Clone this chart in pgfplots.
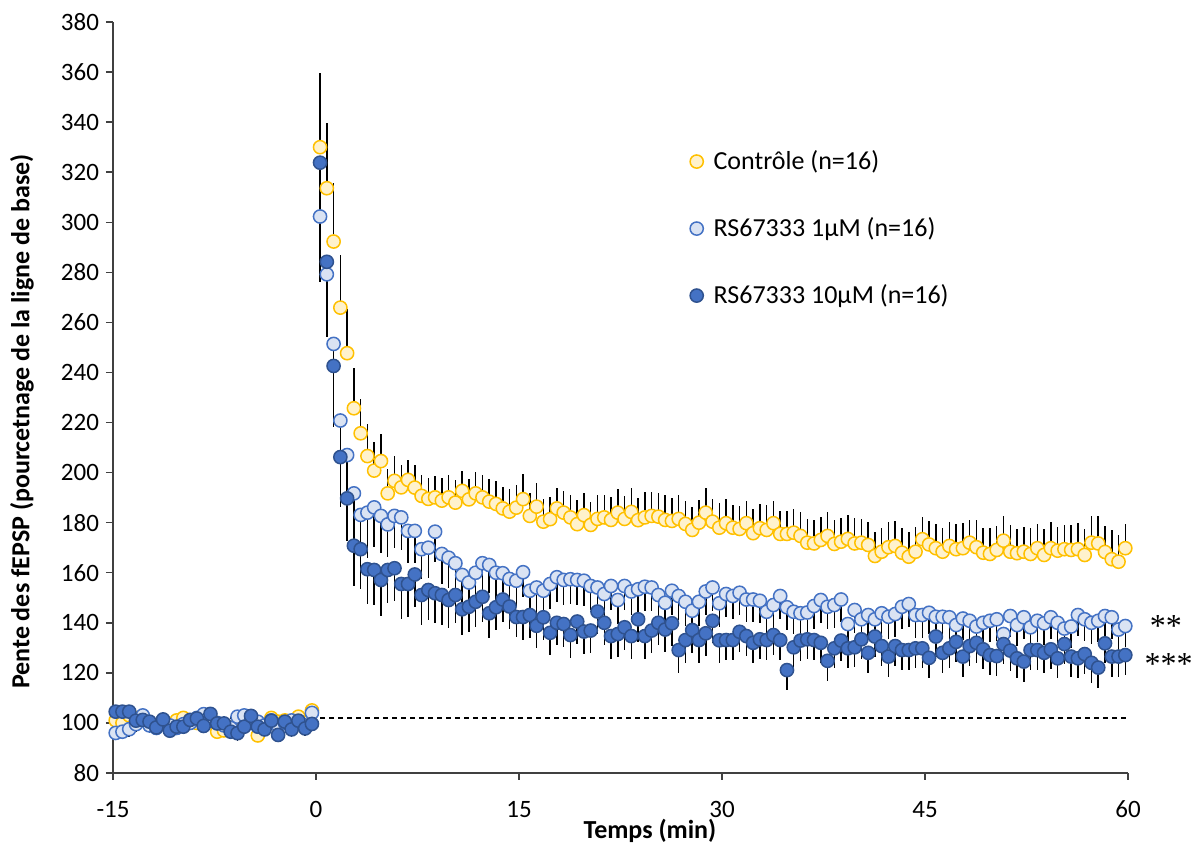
\documentclass[border=0pt]{standalone}
\usepackage{pgfplots}
\pgfplotsset{compat=1.18}
\usepackage{pgfplotstable}
\usepackage{fontspec}
\setmainfont{Carlito}
\newfontfamily\seriffont{Liberation Serif}
\definecolor{ctrlfill}{HTML}{FFF2CC}
\definecolor{ctrledge}{HTML}{FFC000}
\definecolor{lfill}{HTML}{DAE3F3}
\definecolor{ledge}{HTML}{4472C4}
\definecolor{dfill}{HTML}{4472C4}
\definecolor{dedge}{HTML}{2F528F}
\definecolor{axisgray}{HTML}{404040}

\pgfplotstableread{
t c ce l le d de
-14.8 101 2 96 3 104.5 3
-14.3 100 2 96.5 3 104.5 3
-13.8 103 2 97.5 3 104.5 3
-13.3 102 2 99.5 3 100.9 3
-12.8 101.5 2 103 3 101.2 3
-12.3 100 2 99 3 100.5 3
-11.8 99 2 98 3 98.2 3
-11.3 100.5 2 100 3 101.4 3
-10.8 98 2 99 3 96.9 3
-10.3 101 2 98 3 98.5 3
-9.8 102 2 99.5 3 98.5 3
-9.3 101 2 100 3 101.2 3
-8.8 100 2 102 3 101.8 3
-8.3 99.5 2 103.5 3 98.8 3
-7.8 102 2 101 3 103.6 3
-7.3 96.5 2 100 3 99.8 3
-6.8 97 2 99 3 99.8 3
-6.3 98 2 98 3 96.5 3
-5.8 100 2 102.5 3 95.9 3
-5.3 99 2 103 3 98.5 3
-4.8 101 2 101 3 102.8 3
-4.3 95 2 100.5 3 98.5 3
-3.8 99 2 99 3 97.4 3
-3.3 102 2 101 3 100.9 3
-2.8 100.5 2 99 3 95.2 3
-2.3 101 2 100 3 100.5 3
-1.8 99 2 101 3 97.4 3
-1.3 102.5 2 100.5 3 100.9 3
-0.8 100 2 99 3 97.8 3
-0.3 105 2 104 3 99.6 3
0.3 330 29.5 302.3 26 323.8 30
0.8 313.6 26 279.2 25 284.2 30
1.3 292.3 23.5 251.4 33 242.6 24
1.8 265.9 21 220.8 34 206.2 20
2.3 247.7 17.6 207 30 189.7 17
2.8 225.7 16 191.7 26 170.8 16
3.3 215.7 13.6 183.1 20 169.4 16
3.8 206.6 13 184 18 161.4 14
4.3 200.8 11.6 186.1 16 161.1 14
4.8 204.6 10.8 182.7 15 157.1 14.5
5.3 191.7 9.6 179.3 13 161.1 13
5.8 196.7 10 182.7 13 161.8 13
6.3 194.1 9 182.1 13 155.5 14
6.8 197.1 8 176.7 13 155.5 13
7.3 194 9 176.7 13 159.3 13
7.8 190.7 8.5 169.4 12 151.1 12
8.3 189.5 8.5 170 12 153.1 12
8.8 190.1 8.5 176.4 12 151.8 12
9.3 188.8 9 167.5 12 151.1 12
9.8 190.1 9 166 12 149.1 11
10.3 188 9 163.8 11 151.1 11
10.8 192.7 8 159.1 11 145.4 10.3
11.3 189.3 8 156.1 11 146.4 10
11.8 191.7 8.5 160 11 148.4 10
12.3 190.1 9 163.8 11 150.4 10
12.8 188.4 9 163.1 11 143.8 10
13.3 187.5 9 160 11 146.2 9
13.8 185.7 8.5 159.8 10 149.3 9
14.3 184.4 9 157.5 10 146.5 9
14.8 186 9 156.8 10 142.3 8
15.3 189.4 10 160.2 10 142.3 9
15.8 182.7 9 152.8 10 143.1 9
16.3 186.4 9.5 154.1 10 138.8 9
16.8 180.4 9 152.8 10 142.2 9
17.3 181.4 9 155.5 10 136 9
17.8 185.7 8 158.2 10 140 9
18.3 184 8.5 157.1 10 139.5 9
18.8 182.1 9 157.4 10 135.1 9
19.3 179.4 9.5 157.1 10 140.5 9
19.8 183 9 156.8 10 136.5 9
20.3 179.1 9 154.7 9.5 136.9 9
20.8 181.5 9.5 154.1 9.5 144.5 9
21.3 182.1 9 151.5 9.5 140 9
21.8 181.1 9 154.7 9.5 134.7 9
22.3 184 9.5 149.1 9.5 135.5 9
22.8 181.5 9 154.7 9.5 138.2 9
23.3 184.3 9.5 152.5 9.5 134.7 9
23.8 181 9 153.4 9.5 141.4 9
24.3 182.1 10 154.4 9.5 134.7 9
24.8 182.7 9.5 154.1 9.5 136.9 9
25.3 182.4 9.5 151.1 9.5 140 9
25.8 181.1 10 148 9.5 137.3 9
26.3 180.7 9 152.8 9.5 139.8 9
26.8 181.5 9.5 150.7 9.5 129.1 9
27.3 179.5 9 148.4 9.5 133.1 9
27.8 177.1 9 144.8 9.5 137.1 9
28.3 180 9 148.4 9.5 133.1 9
28.8 184 10 152.5 9.5 135.8 9
29.3 180.4 9 154.1 9.5 140.8 9
29.8 178 10 147.8 9.5 133 9
30.3 179.8 9.5 151.5 9 133.1 8
30.8 178 9 150.7 9 133.1 8
31.3 177.5 9 152 9 136.4 8
31.8 179.8 9 149.3 9 134.7 8
32.3 175.8 9.5 149.3 9 132 8
32.8 177.8 9.5 148.8 9 133.4 8
33.3 177.1 10 144.4 9 133.1 8
33.8 179.8 9 147.1 9 135.1 8
34.3 175.5 9 150.7 9 133.1 8
34.8 175.5 9 146.2 9 121.1 8
35.3 176 9.5 144.4 9 130.2 8
35.8 174.7 9.5 143.8 9 132.9 8
36.3 172 9.5 144.1 9 133.4 8
36.8 171.7 9.5 146.7 9 133.1 8
37.3 173.1 9 149.1 9 132 8
37.8 174.7 9.5 146.4 9 124.8 8
38.3 171.5 9.5 147.1 9 129.8 8
38.8 172.4 9.5 149.3 9 132.9 8
39.3 173.5 9.5 139.5 9 129.8 8
39.8 171.7 10 145.1 9 130.2 8
40.3 172 9.5 141.4 9 133.4 8
40.8 171.1 9 143.1 9 128 8
41.3 166.7 9.5 141.4 9 134.5 8
41.8 168.4 9.5 143.8 9 130.7 8
42.3 170.2 10 142.4 9 126.5 8
42.8 170.7 10 143.5 9 130.7 8
43.3 168 10 146.4 9 129.1 8
43.8 166.4 10 147.5 9 129.1 8
44.3 168.4 10 143.1 9 129.8 8
44.8 173.4 9 143.1 9 129.8 8
45.3 171.3 9.5 144 8.5 126 8
45.8 169.8 9.5 142.4 8.5 134.5 8
46.3 168.4 9.5 142.4 8.5 128 8
46.8 170.7 9.5 142.2 8.5 129.8 8
47.3 169.4 10 139.1 8.5 132.4 8
47.8 169.8 10 141.7 8.5 126.5 8
48.3 172 9 140.8 8.5 130.7 8
48.8 170.2 11 138.5 8.5 132 8
49.3 168 10 140 8.5 129.4 8
49.8 167.5 10.5 140.8 8.5 127.1 8
50.3 169.1 9.5 141.4 8.5 126.7 8
50.8 172.8 10 135.5 8.5 131.5 8
51.3 168.4 10.5 142.7 8.5 128.9 8
51.8 167.8 9.5 139.1 8.5 125.8 8
52.3 168.4 10 142.2 8.5 124.5 8
52.8 167.5 10.5 138.2 8.5 129.1 8
53.3 169.8 9.5 140.8 8.5 129.1 8
53.8 167.1 10.5 139.8 8.5 128 8
54.3 169.8 10.5 142.2 8.5 129.4 8
54.8 168.8 9.5 140 8.5 125.8 8
55.3 169.4 9.5 137.7 8.5 131.5 8
55.8 169.1 10 138.5 8.5 126.5 8
56.3 169.4 10.5 143.1 8.5 125.8 8
56.8 167.1 10.5 141.4 8.5 127.5 8
57.3 172 10.5 140 8.5 124 8
57.8 171.7 11 140.8 8.5 122.1 8
58.3 168.3 10.5 142.7 8.5 131.8 8
58.8 165.4 11.5 142.2 8.5 126.5 8
59.3 164.4 10.5 137.3 8.5 126.5 8
59.8 169.8 9.5 138.7 8.5 127.1 8
}\datatable

\begin{document}
\begin{tikzpicture}
\begin{axis}[
  scale only axis, width=507.5pt, height=375.5pt,
  xmin=-15, xmax=60, ymin=80, ymax=380,
  xtick={-15,0,15,30,45,60}, ytick={80,100,...,380},
  axis x line*=bottom, axis y line*=left,
  axis line style={draw=axisgray, line width=0.75pt},
  tick style={draw=axisgray, line width=0.75pt},
  tick align=outside, major tick length=3.5pt,
  ticklabel style={font=\fontsize{12.5}{15}\selectfont, text=black},
  xticklabel style={yshift=-7pt},
  /pgf/number format/assume math mode=true,
  xlabel={Temps (min)},
  ylabel={Pente des fEPSP (pourcetnage de la ligne de base)},
  label style={font=\bfseries\fontsize{13}{15.6}\selectfont},
  xlabel style={at={(rel axis cs:0.529,-0.0772)}, anchor=center},
  ylabel style={at={(rel axis cs:-0.0897,0.468)}, anchor=center},
  clip=false,
  legend image code/.code={\draw[mark repeat=2,mark phase=2,#1] plot coordinates {(0cm,0cm) (0.18cm,0cm) (0.36cm,0cm)}; \path (0.40cm,0cm);},
  legend style={at={(axis cs:27.17,332)}, anchor=north west, draw=none, fill=none,
    font=\fontsize{13}{15.6}\selectfont, row sep=18.5pt},
  legend cell align=left,
]
\addplot[black, dash pattern=on 2.5pt off 2pt, line width=0.75pt, forget plot] coordinates {(-15,102) (60,102)};
\addplot[only marks, mark=*, mark size=3.3pt,
  mark options={draw=ctrledge, fill=ctrlfill, line width=0.75pt},
  error bars/.cd, y dir=plus, y explicit,
  error bar style={black, line width=0.75pt}, error mark=none]
  table[x=t, y=c, y error=ce] {\datatable};
\addlegendentry{Contrôle (n=16)}
\addplot[only marks, mark=*, mark size=3.3pt,
  mark options={draw=ledge, fill=lfill, line width=0.75pt},
  error bars/.cd, y dir=minus, y explicit,
  error bar style={black, line width=0.75pt}, error mark=none]
  table[x=t, y=l, y error=le] {\datatable};
\addlegendentry{RS67333 1µM (n=16)}
\addplot[only marks, mark=*, mark size=3.3pt,
  mark options={draw=dedge, fill=dfill, line width=0.75pt},
  error bars/.cd, y dir=minus, y explicit,
  error bar style={black, line width=0.75pt}, error mark=none]
  table[x=t, y=d, y error=de] {\datatable};
\addlegendentry{RS67333 10µM (n=16)}
\node[font=\seriffont\fontsize{16}{16}\selectfont, anchor=center, yshift=-2pt] at (axis cs:62.8,140.3) {**};
\node[font=\seriffont\fontsize{16}{16}\selectfont, anchor=center, yshift=-2pt] at (axis cs:63.0,125.1) {***};
\coordinate (LL) at (rel axis cs:0,0);
\coordinate (UR) at (rel axis cs:1,1);
\end{axis}
\pgfresetboundingbox
\path ([shift={(-56.5pt,-36pt)}]LL) rectangle ([shift={(35.5pt,11pt)}]UR);
\end{tikzpicture}
\end{document}
